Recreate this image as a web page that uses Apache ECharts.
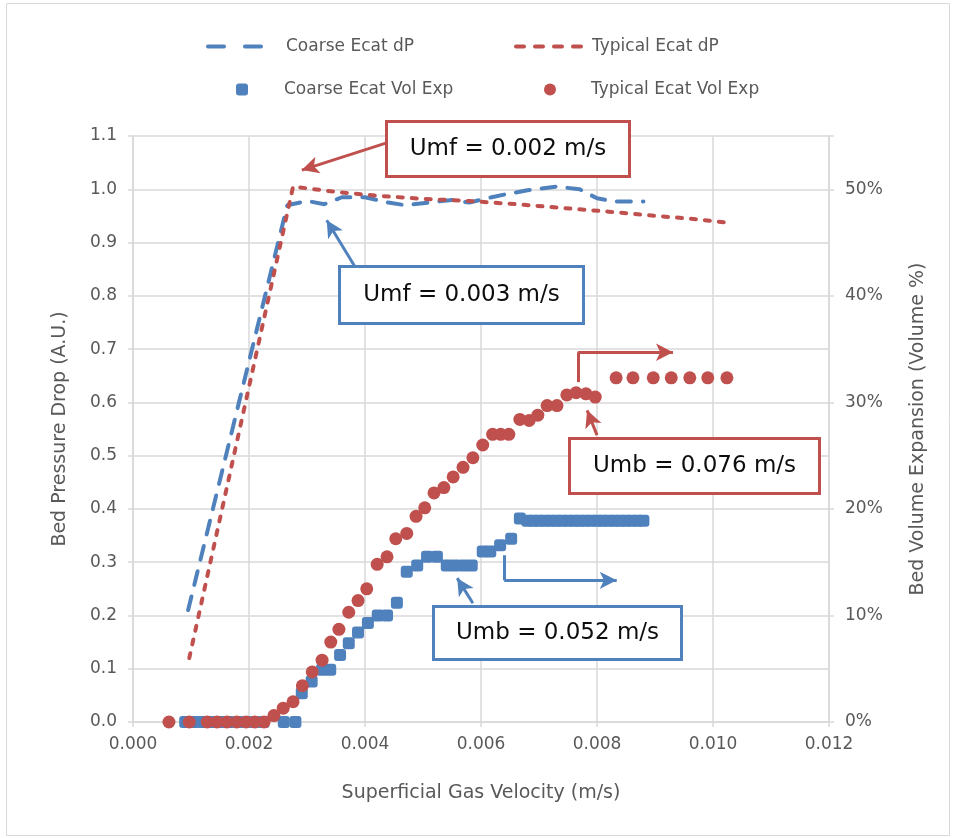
<!DOCTYPE html>
<html>
<head>
<meta charset="utf-8">
<script src="https://cdn.jsdelivr.net/npm/echarts@6/dist/echarts.min.js"></script>
<style>
  html, body { margin: 0; padding: 0; background: #fff; }
  #chart { width: 955px; height: 838px; }
</style>
</head>
<body>
<div id="chart"></div>
<script>
// bed pressure drop, left axis (A.U.)
var coarseDp = [[0.00095, 0.21], [0.00266, 0.97], [0.0030, 0.978], [0.0033, 0.972], [0.0036, 0.985],
  [0.0040, 0.985], [0.0044, 0.975], [0.0047, 0.97], [0.0051, 0.975], [0.0055, 0.98], [0.0058, 0.975],
  [0.0061, 0.983], [0.0064, 0.99], [0.0068, 0.998], [0.0073, 1.005], [0.0077, 1.0], [0.0080, 0.983],
  [0.0083, 0.977], [0.0088, 0.977]]
var typicalDp = [[0.00097, 0.12], [0.00276, 1.005], [0.0035, 0.995], [0.0042, 0.988], [0.0050, 0.982],
  [0.0058, 0.978], [0.0066, 0.972], [0.0074, 0.965], [0.0082, 0.958], [0.0090, 0.95], [0.0096, 0.945],
  [0.0102, 0.938]]

// bed volume expansion, right axis (%)
var coarseVol = [[0.0009, 0], [0.00105, 0], [0.0012, 0], [0.00135, 0], [0.0015, 0], [0.00165, 0], [0.0018, 0],
  [0.00195, 0], [0.0021, 0], [0.00225, 0], [0.0026, 0], [0.0028, 0], [0.00291, 2.7], [0.00308, 3.8],
  [0.00326, 4.9], [0.0034, 4.9], [0.00357, 6.3], [0.00372, 7.4], [0.00388, 8.4], [0.00405, 9.3],
  [0.00422, 10], [0.00438, 10], [0.00455, 11.2], [0.00472, 14.1], [0.0049, 14.7], [0.00507, 15.5],
  [0.00524, 15.5], [0.00541, 14.7], [0.00555, 14.7], [0.0057, 14.7], [0.00584, 14.7], [0.00603, 16],
  [0.00616, 16], [0.00633, 16.6], [0.00652, 17.2], [0.00667, 19.1], [0.0068, 18.9], [0.0069, 18.9],
  [0.0070, 18.9], [0.0071, 18.9], [0.0072, 18.9], [0.0073, 18.9], [0.0074, 18.9], [0.0075, 18.9],
  [0.0076, 18.9], [0.0077, 18.9], [0.0078, 18.9], [0.0079, 18.9], [0.0080, 18.9], [0.0081, 18.9],
  [0.0082, 18.9], [0.0083, 18.9], [0.0084, 18.9], [0.0085, 18.9], [0.0086, 18.9], [0.0087, 18.9],
  [0.0088, 18.9]]
var typicalVol = [[0.00062, 0], [0.00097, 0], [0.00128, 0], [0.00145, 0], [0.00162, 0], [0.00179, 0],
  [0.00195, 0], [0.0021, 0], [0.00226, 0], [0.00243, 0.6], [0.00259, 1.3], [0.00276, 1.9], [0.00292, 3.4],
  [0.00309, 4.7], [0.00326, 5.8], [0.00341, 7.5], [0.00355, 8.7], [0.00372, 10.3], [0.00388, 11.4],
  [0.00403, 12.5], [0.00421, 14.8], [0.00438, 15.5], [0.00453, 17.2], [0.00472, 17.7], [0.00488, 19.3],
  [0.00503, 20.1], [0.00519, 21.5], [0.00536, 22], [0.00552, 23], [0.00569, 23.9], [0.00586, 24.8],
  [0.00603, 26], [0.0062, 27], [0.00634, 27], [0.00648, 27], [0.00667, 28.4], [0.00683, 28.3],
  [0.00698, 28.8], [0.00714, 29.7], [0.00731, 29.7], [0.00748, 30.7], [0.00764, 30.9], [0.00781, 30.8],
  [0.00797, 30.5], [0.00833, 32.3], [0.00862, 32.3], [0.00897, 32.3], [0.00928, 32.3], [0.0096, 32.3],
  [0.00991, 32.3], [0.01024, 32.3]]

// annotation arrows, in left-axis units [x, y]
var blueArrows = [
  [[0.00383, 0.854], [0.00334, 0.942]],
  [[0.00586, 0.223], [0.00559, 0.27]]
]
var blueElbow = [[0.0064, 0.313], [0.0064, 0.266], [0.00834, 0.266]]
var redArrows = [
  [[0.0044, 1.088], [0.00291, 1.036]],
  [[0.0080, 0.5385], [0.00783, 0.585]]
]
var redElbow = [[0.00767, 0.638], [0.00767, 0.694], [0.00931, 0.694]]

var BLUE = '#4F81BD'
var RED = '#C0504D'
var GREY = '#595959'
var FONT = 'DejaVu Sans'

function arrowLines(list, elbow) {
  var out = list.map(function (a) {
    return [{ coord: a[0], symbol: 'none' }, { coord: a[1], symbol: 'arrow' }]
  })
  out.push([{ coord: elbow[0], symbol: 'none' }, { coord: elbow[1], symbol: 'none' }])
  out.push([{ coord: elbow[1], symbol: 'none' }, { coord: elbow[2], symbol: 'arrow' }])
  return out
}

// boxed label on top of everything
function box(x, y, w, h, color, text) {
  return {
    type: 'group', left: x, top: y, z: 100,
    children: [
      { type: 'rect', z: 100, shape: { x: 0, y: 0, width: w, height: h },
        style: { fill: '#fff', stroke: color, lineWidth: 3 } },
      { type: 'text', z: 101, x: w / 2, y: h / 2,
        style: { text: text, fill: '#0d0d0d', font: '23px ' + FONT, align: 'center', verticalAlign: 'middle' } }
    ]
  }
}

var myChart = echarts.init(document.getElementById('chart'))

var legendText = { color: GREY, fontSize: 17, fontFamily: FONT }

myChart.setOption({
  animation: false,
  textStyle: { fontFamily: FONT },
  grid: { left: 133, right: 126, top: 136, bottom: 116 },
  legend: [
    { data: ['Coarse Ecat dP'], left: 206, top: 38, padding: 0, itemWidth: 57, itemHeight: 14, selectedMode: false,
      itemStyle: { opacity: 0 }, lineStyle: { width: 4, type: [16, 21], cap: 'round', color: BLUE },
      textStyle: Object.assign({ padding: [0, 0, 0, 16] }, legendText) },
    { data: ['Typical Ecat dP'], left: 514, top: 38, padding: 0, itemWidth: 71, itemHeight: 14, selectedMode: false,
      itemStyle: { opacity: 0 }, lineStyle: { width: 4, type: [8, 11], cap: 'round', color: RED },
      textStyle: legendText },
    { data: ['Coarse Ecat Vol Exp'], left: 236, top: 81, padding: 0, itemWidth: 12, itemHeight: 12, selectedMode: false,
      textStyle: Object.assign({ padding: [0, 0, 0, 31] }, legendText) },
    { data: ['Typical Ecat Vol Exp'], left: 544, top: 81, padding: 0, itemWidth: 12, itemHeight: 12, selectedMode: false,
      textStyle: Object.assign({ padding: [0, 0, 0, 30] }, legendText) }
  ],
  xAxis: {
    type: 'value', min: 0, max: 0.012, interval: 0.002,
    name: 'Superficial Gas Velocity (m/s)', nameLocation: 'middle', nameGap: 62,
    nameTextStyle: { color: GREY, fontSize: 19, fontFamily: FONT },
    axisLine: { lineStyle: { color: '#d9d9d9', width: 1.5 } },
    axisTick: { show: true, length: 5, lineStyle: { color: '#d9d9d9', width: 1.5 } },
    axisLabel: { color: GREY, fontSize: 17, margin: 14, formatter: function (v) { return v.toFixed(3) } },
    splitLine: { show: true, lineStyle: { color: '#d9d9d9', width: 1.5 } }
  },
  yAxis: [
    {
      type: 'value', min: 0, max: 1.1, interval: 0.1, position: 'left',
      name: 'Bed Pressure Drop (A.U.)', nameLocation: 'middle', nameGap: 63,
      nameTextStyle: { color: GREY, fontSize: 19, fontFamily: FONT },
      axisLine: { show: true, lineStyle: { color: '#d9d9d9', width: 1.5 } },
      axisTick: { show: true, length: 5, lineStyle: { color: '#d9d9d9', width: 1.5 } },
      axisLabel: { color: GREY, fontSize: 17, margin: 16, formatter: function (v) { return v.toFixed(1) } },
      splitLine: { show: true, lineStyle: { color: '#d9d9d9', width: 1.5 } }
    },
    {
      type: 'value', min: 0, max: 55, interval: 10, position: 'right',
      name: 'Bed Volume Expansion (Volume %)', nameLocation: 'middle', nameGap: 80, nameRotate: 90,
      nameTextStyle: { color: GREY, fontSize: 19, fontFamily: FONT },
      axisLine: { show: true, lineStyle: { color: '#d9d9d9', width: 1.5 } },
      axisTick: { show: true, length: 5, lineStyle: { color: '#d9d9d9', width: 1.5 } },
      axisLabel: { color: GREY, fontSize: 17, margin: 16,
        formatter: function (v) { return v > 50 ? '' : Math.round(v) + '%' } },
      splitLine: { show: false }
    }
  ],
  series: [
    {
      name: 'Coarse Ecat dP', type: 'line', yAxisIndex: 0, data: coarseDp, symbol: 'none', z: 3,
      color: BLUE,
      lineStyle: { color: BLUE, width: 4, type: [14, 12], cap: 'round' },
      markLine: {
        silent: true, symbolSize: [13, 17], label: { show: false },
        lineStyle: { color: BLUE, width: 3, type: 'solid' },
        data: arrowLines(blueArrows, blueElbow)
      }
    },
    {
      name: 'Typical Ecat dP', type: 'line', yAxisIndex: 0, data: typicalDp, symbol: 'none', z: 3,
      color: RED,
      lineStyle: { color: RED, width: 4, type: [5, 9], cap: 'round' },
      markLine: {
        silent: true, symbolSize: [13, 17], label: { show: false },
        lineStyle: { color: RED, width: 3, type: 'solid' },
        data: arrowLines(redArrows, redElbow)
      }
    },
    {
      name: 'Coarse Ecat Vol Exp', type: 'scatter', yAxisIndex: 1, data: coarseVol,
      symbol: 'roundRect', symbolSize: 12, color: BLUE, itemStyle: { color: BLUE, opacity: 1 }
    },
    {
      name: 'Typical Ecat Vol Exp', type: 'scatter', yAxisIndex: 1, data: typicalVol,
      symbol: 'circle', symbolSize: 13, color: RED, itemStyle: { color: RED, opacity: 1 }
    }
  ],
  graphic: [
    { type: 'rect', left: 4, top: 1, z: -1, shape: { width: 943, height: 832 },
      style: { fill: 'none', stroke: '#d9d9d9', lineWidth: 1 } },
    box(385, 120, 243, 55, RED, 'Umf = 0.002 m/s'),
    box(338, 265, 244, 57, BLUE, 'Umf = 0.003 m/s'),
    box(568, 437, 250, 55, RED, 'Umb = 0.076 m/s'),
    box(432, 605, 248, 53, BLUE, 'Umb = 0.052 m/s')
  ]
})
</script>
</body>
</html>
